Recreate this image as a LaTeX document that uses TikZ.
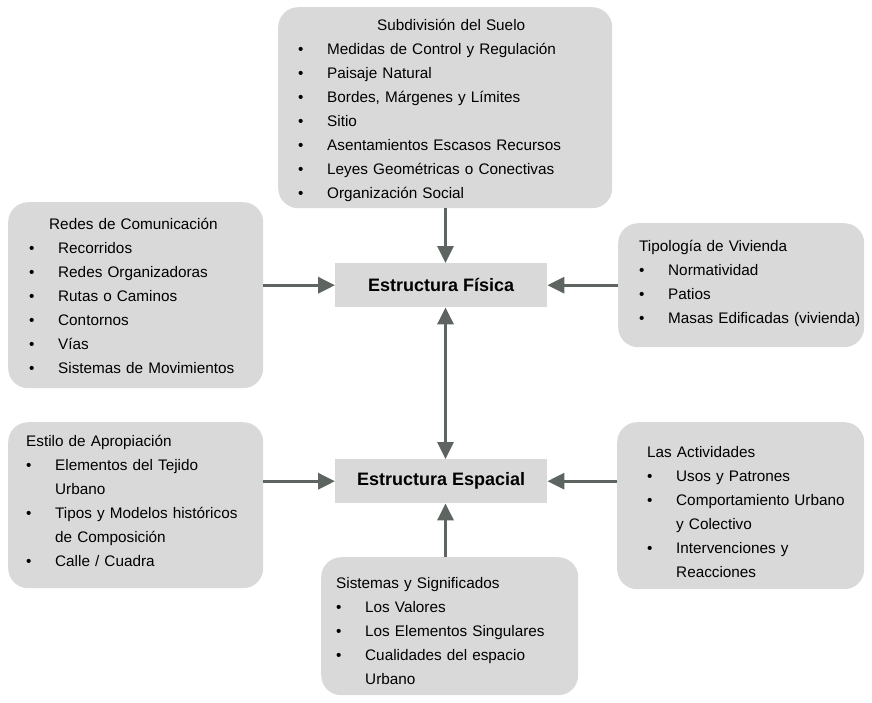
\documentclass[tikz,border=0pt]{standalone}
\usepackage{fontspec}
\setmainfont{Liberation Sans}
\usetikzlibrary{arrows.meta, positioning}
\definecolor{boxgray}{HTML}{D9D9D9}
\definecolor{arrowgray}{HTML}{5E6560}
\setlength{\parindent}{0pt}
\newcommand{\bul}{\makebox[29pt][l]{\textbullet}}
\newcommand{\cont}{\hspace*{29pt}}

\begin{document}
\begin{tikzpicture}[x=1pt, y=-1pt,
    >={Triangle[length=17pt,width=16pt]},
    panel/.style={fill=boxgray, rounded corners=20pt, inner sep=0pt, anchor=north west},
    core/.style={fill=boxgray, inner sep=0pt, anchor=north west, minimum width=212pt, minimum height=44pt,
        font=\fontsize{18}{20}\selectfont\bfseries},
    lst/.style={inner sep=0pt, anchor=north west, align=left, text width=320pt,
        font=\fontsize{15.3}{24}\selectfont},
    link/.style={draw=arrowgray, line width=3.2pt, ->}]
        \useasboundingbox (0,0) rectangle (872,702);
        % grey panels
        \node[panel, minimum width=334pt, minimum height=201pt] (suelo) at (278,7) {};
        \node[panel, minimum width=255pt, minimum height=186pt] (redes) at (8,202) {};
        \node[panel, minimum width=246pt, minimum height=124pt] (vivienda) at (618,223) {};
        \node[panel, minimum width=255pt, minimum height=166pt] (apropiacion) at (8,422) {};
        \node[panel, minimum width=247pt, minimum height=167pt] (actividades) at (617,422) {};
        \node[panel, minimum width=257pt, minimum height=138pt] (sistemas) at (321,557) {};
        % the two structures
        \node[core] (fisica) at (335,263) {Estructura Física};
        \node[core] (espacial) at (335,459) {Estructura Espacial};
        \coordinate (vaxis) at (445.5,0);
        % lists
        \node[lst] (sueloT) at (298,13.2) {\strut\hspace*{79pt}Subdivisión del Suelo\\
            \bul Medidas de Control y Regulación\\
            \bul Paisaje Natural\\
            \bul Bordes, Márgenes y Límites\\
            \bul Sitio\\
            \bul Asentamientos Escasos Recursos\\
            \bul Leyes Geométricas o Conectivas\\
            \bul Organización Social};
        \node[lst] (redesT) at (29,212.2) {\strut\hspace*{20pt}Redes de Comunicación\\
            \bul Recorridos\\
            \bul Redes Organizadoras\\
            \bul Rutas o Caminos\\
            \bul Contornos\\
            \bul Vías\\
            \bul Sistemas de Movimientos};
        \node[lst] (viviendaT) at (639,234.2) {\strut Tipología de Vivienda\\
            \bul Normatividad\\
            \bul Patios\\
            \bul Masas Edificadas (vivienda)};
        \node[lst] (apropiacionT) at (26,429.2) {\strut Estilo de Apropiación\\
            \bul Elementos del Tejido\\
            \cont Urbano\\
            \bul Tipos y Modelos históricos\\
            \cont de Composición\\
            \bul Calle / Cuadra};
        \node[lst] (actividadesT) at (647,440.2) {\strut Las Actividades\\
            \bul Usos y Patrones\\
            \bul Comportamiento Urbano\\
            \cont y Colectivo\\
            \bul Intervenciones y\\
            \cont Reacciones};
        \node[lst] (sistemasT) at (336,571.2) {\strut Sistemas y Significados\\
            \bul Los Valores\\
            \bul Los Elementos Singulares\\
            \bul Cualidades del espacio\\
            \cont Urbano};
        % arrows
        \draw[link] (suelo.south -| vaxis) -- (fisica.north -| vaxis);
        \draw[link] (redes.east |- fisica) -- (fisica.west);
        \draw[link] (vivienda.west |- fisica) -- (fisica.east);
        \draw[link, <->] (fisica.south -| vaxis) -- (espacial.north -| vaxis);
        \draw[link] (apropiacion.east |- espacial) -- (espacial.west);
        \draw[link] (actividades.west |- espacial) -- (espacial.east);
        \draw[link] (sistemas.north -| vaxis) -- (espacial.south -| vaxis);
\end{tikzpicture}
\end{document}
